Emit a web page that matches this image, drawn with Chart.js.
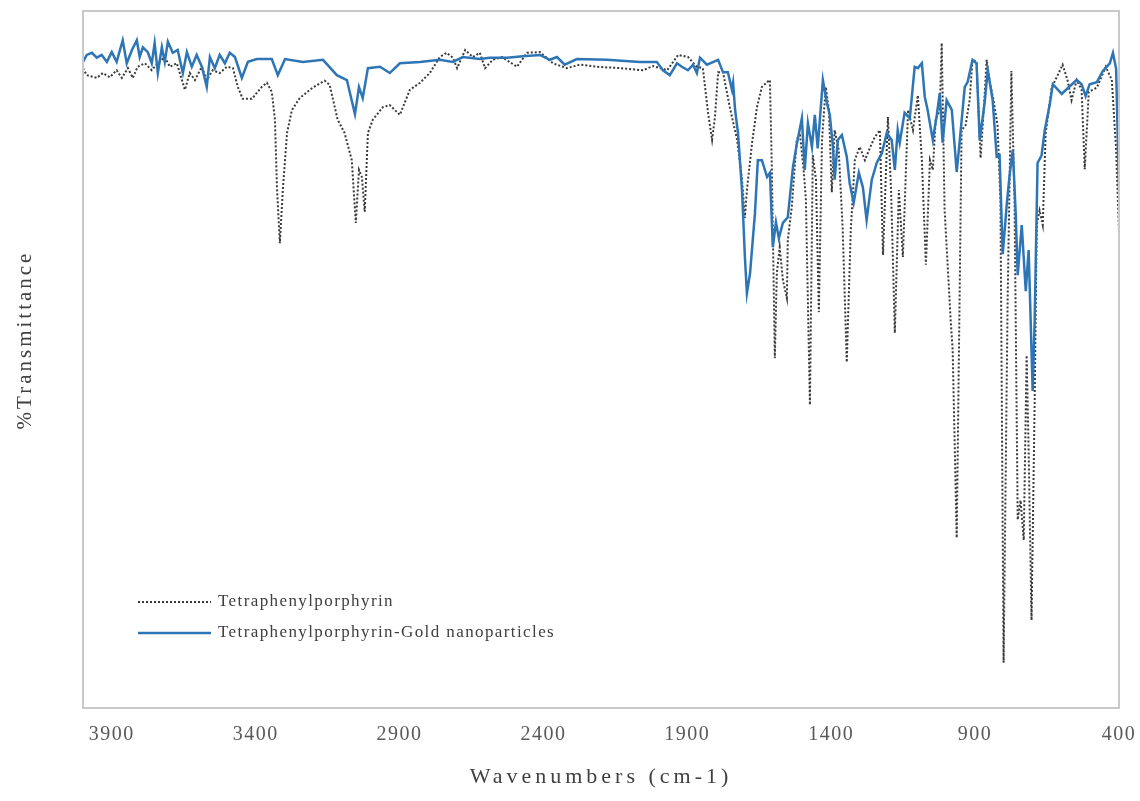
<!DOCTYPE html>
<html>
<head>
<meta charset="utf-8">
<title>FTIR - Tetraphenylporphyrin</title>
<script src="https://cdn.jsdelivr.net/npm/chart.js@4.4.1/dist/chart.umd.min.js"></script>
<style>
  html, body { margin: 0; padding: 0; background: #fff; }
  #wrap { position: relative; width: 1140px; height: 801px; }
</style>
</head>
<body>
<div id="wrap"><canvas id="ftirChart"></canvas></div>
<script>
  'use strict';

  const SERIF     = "'Liberation Serif', 'Times New Roman', serif";
  const TEXT      = '#404040';
  const TICK_TEXT = '#595959';
  const FRAME     = '#c9c9c9';
  const BLUE      = '#2e75b6';
  const DOTTED    = '#3a3a3a';

  /* ─── Data ─── */
  const xTickValues = [3900, 3400, 2900, 2400, 1900, 1400, 900, 400];

  // Tetraphenylporphyrin (dotted)
  const tppWavenumbers = [
    4000, 3987, 3952, 3931, 3907, 3883, 3865, 3844, 3827, 3810,
    3785, 3761, 3740, 3716, 3698, 3674, 3646, 3629, 3611, 3587,
    3570, 3549, 3525, 3500, 3479, 3462, 3445, 3413, 3379, 3361,
    3344, 3333, 3326, 3316, 3305, 3291, 3274, 3247, 3202, 3160,
    3143, 3115, 3091, 3066, 3052, 3041, 3031, 3021, 3010, 2993,
    2958, 2934, 2899, 2864, 2829, 2795, 2760, 2736, 2715, 2700,
    2672, 2645, 2621, 2603, 2576, 2544, 2492, 2457, 2412, 2367,
    2319, 2273, 2214, 2134, 2054, 2019, 1970, 1932, 1898, 1867,
    1846, 1828, 1814, 1804, 1793, 1776, 1752, 1727, 1710, 1700,
    1693, 1675, 1658, 1641, 1623, 1613, 1606, 1596, 1589, 1579,
    1568, 1554, 1551, 1537, 1520, 1509, 1495, 1488, 1474, 1464,
    1453, 1443, 1432, 1419, 1408, 1398, 1388, 1374, 1360, 1346,
    1332, 1318, 1301, 1283, 1266, 1249, 1231, 1220, 1203, 1192,
    1179, 1165, 1151, 1133, 1116, 1099, 1085, 1071, 1057, 1047,
    1037, 1023, 1016, 1006, 996, 985, 978, 964, 954, 947,
    933, 919, 909, 895, 881, 867, 860, 850, 836, 822,
    812, 801, 787, 774, 763, 752, 742, 731, 721, 714,
    704, 693, 686, 676, 665, 655, 634, 613, 596, 579,
    565, 547, 530, 519, 505, 477, 446, 425, 410, 400
  ];
  const tppTransmittance = [
    91.8, 90.8, 90.4, 91.1, 90.5, 91.5, 90.4, 91.8, 90.4, 92.0,
    92.5, 91.5, 92.5, 93.4, 92.0, 92.5, 88.7, 91.1, 90.1, 92.0,
    90.1, 91.5, 91.1, 92.0, 91.8, 89.1, 87.4, 87.4, 89.1, 89.7,
    88.4, 84.4, 74.7, 66.7, 74.7, 82.5, 85.8, 87.5, 89.0, 90.0,
    89.4, 84.4, 82.5, 78.6, 69.6, 77.2, 76.2, 71.2, 82.5, 84.4,
    86.2, 86.5, 85.1, 88.7, 89.7, 91.1, 93.4, 94.0, 93.3, 91.8,
    94.4, 93.4, 94.0, 91.8, 93.0, 93.4, 92.0, 94.0, 94.1, 92.5,
    91.8, 92.3, 92.0, 91.8, 91.5, 92.1, 91.5, 93.7, 93.4, 92.0,
    91.8, 85.4, 81.5, 84.8, 91.2, 91.2, 86.1, 81.5, 75.8, 70.3,
    74.3, 81.1, 86.2, 89.1, 89.8, 90.1, 76.8, 50.2, 62.4, 66.1,
    61.4, 58.8, 67.1, 71.9, 81.5, 82.5, 76.8, 72.9, 43.5, 79.3,
    75.8, 56.8, 81.5, 89.1, 85.8, 74.0, 82.9, 80.1, 68.6, 49.6,
    68.6, 78.6, 80.5, 78.6, 80.3, 81.9, 82.9, 65.0, 84.8, 74.3,
    53.8, 74.3, 64.7, 85.8, 82.9, 87.9, 78.6, 63.6, 78.6, 77.2,
    84.4, 85.8, 95.4, 71.4, 64.0, 55.7, 51.4, 24.4, 58.5, 82.9,
    83.6, 87.2, 93.0, 92.7, 78.9, 87.9, 93.0, 90.1, 87.2, 83.6,
    72.9, 6.5, 58.5, 91.4, 72.9, 27.0, 29.8, 24.1, 50.6, 37.0,
    12.6, 44.2, 69.3, 71.4, 69.3, 82.4, 89.0, 90.8, 92.3, 90.1,
    87.2, 90.1, 88.7, 77.3, 88.4, 89.0, 92.0, 90.1, 80.1, 68.3
  ];

  // Tetraphenylporphyrin-Gold nanoparticles (solid blue)
  const auWavenumbers = [
    4000, 3987, 3969, 3952, 3935, 3917, 3900, 3883, 3862, 3848,
    3830, 3813, 3803, 3792, 3775, 3761, 3751, 3740, 3726, 3716,
    3705, 3688, 3671, 3653, 3639, 3622, 3605, 3587, 3570, 3559,
    3542, 3525, 3507, 3490, 3472, 3448, 3427, 3396, 3344, 3323,
    3298, 3236, 3166, 3118, 3083, 3055, 3041, 3028, 3010, 2968,
    2934, 2899, 2829, 2760, 2715, 2680, 2621, 2587, 2527, 2472,
    2412, 2378, 2353, 2326, 2284, 2179, 2065, 2006, 1985, 1961,
    1936, 1919, 1898, 1880, 1867, 1856, 1832, 1793, 1776, 1759,
    1745, 1741, 1734, 1724, 1710, 1700, 1693, 1682, 1665, 1655,
    1641, 1623, 1613, 1603, 1592, 1582, 1568, 1551, 1533, 1520,
    1502, 1492, 1481, 1467, 1457, 1447, 1429, 1415, 1405, 1394,
    1388, 1377, 1363, 1346, 1336, 1322, 1304, 1290, 1277, 1259,
    1242, 1224, 1207, 1190, 1179, 1169, 1162, 1145, 1127, 1110,
    1099, 1085, 1075, 1065, 1047, 1033, 1023, 1013, 999, 981,
    964, 954, 936, 926, 909, 895, 884, 867, 856, 839,
    825, 815, 804, 790, 780, 769, 759, 752, 738, 724,
    714, 700, 693, 683, 669, 658, 641, 630, 599, 571,
    547, 530, 516, 502, 477, 456, 432, 421, 410, 400
  ];
  const auTransmittance = [
    92.7, 93.7, 94.0, 93.3, 93.7, 92.7, 94.1, 92.7, 95.8, 92.5,
    94.4, 95.8, 93.4, 94.8, 94.1, 92.5, 95.4, 91.1, 94.8, 92.7,
    95.6, 94.0, 94.4, 91.1, 94.1, 92.0, 93.7, 92.0, 89.1, 93.4,
    91.8, 93.7, 92.5, 94.0, 93.4, 90.4, 92.7, 93.1, 93.1, 90.8,
    93.1, 92.7, 93.0, 90.8, 90.1, 85.2, 89.1, 87.5, 91.8, 92.0,
    91.1, 92.5, 92.7, 93.0, 92.7, 93.4, 93.1, 93.3, 93.3, 93.5,
    93.7, 93.0, 93.4, 92.3, 93.1, 93.0, 92.7, 92.7, 91.5, 90.8,
    92.5, 92.0, 91.5, 92.3, 91.1, 93.3, 92.3, 93.0, 91.2, 91.2,
    88.7, 89.7, 85.8, 82.5, 74.3, 64.7, 59.5, 62.4, 71.0, 78.6,
    78.6, 76.2, 76.8, 66.1, 69.7, 67.4, 69.6, 70.4, 77.6, 80.8,
    84.6, 77.2, 83.9, 80.5, 85.1, 80.3, 90.1, 86.8, 85.1, 80.5,
    75.8, 81.5, 82.2, 79.1, 75.3, 72.5, 76.8, 74.7, 70.0, 75.8,
    78.2, 79.6, 82.5, 81.5, 77.2, 82.9, 81.1, 85.4, 84.6, 92.0,
    91.8, 92.5, 87.7, 85.8, 81.5, 85.1, 88.2, 81.1, 87.2, 85.8,
    76.9, 81.1, 89.1, 89.8, 93.0, 92.5, 81.5, 86.8, 91.5, 87.2,
    79.1, 79.3, 65.1, 72.3, 76.5, 80.1, 71.0, 62.1, 69.3, 59.8,
    65.7, 45.5, 55.7, 78.2, 79.3, 82.9, 86.5, 89.5, 88.1, 89.2,
    90.1, 89.5, 87.8, 89.5, 89.8, 91.4, 92.5, 94.0, 91.7, 74.0
  ];

  const seriesNames = ['Tetraphenylporphyrin', 'Tetraphenylporphyrin-Gold nanoparticles'];

  function toPoints(xs, ys) {
    return xs.map(function (x, i) { return { x: x, y: ys[i] }; });
  }

  /* ─── Frame, axis titles and in-plot legend ─── */
  const decorations = {
    id: 'decorations',
    beforeDraw: function (chart) {
      chart.ctx.letterSpacing = '1.5px';
    },
    afterDraw: function (chart) {
      const ctx = chart.ctx;
      const a = chart.chartArea;
      ctx.save();

      // plot frame
      ctx.strokeStyle = FRAME;
      ctx.lineWidth = 2;
      ctx.strokeRect(a.left, a.top, a.right - a.left, a.bottom - a.top);

      // x title
      ctx.fillStyle = TEXT;
      ctx.textAlign = 'center';
      ctx.textBaseline = 'middle';
      ctx.letterSpacing = '4px';
      ctx.font = '22px ' + SERIF;
      ctx.fillText('Wavenumbers (cm-1)', (a.left + a.right) / 2, 777);

      // y title
      ctx.letterSpacing = '3px';
      ctx.font = '21px ' + SERIF;
      ctx.save();
      ctx.translate(25, 340);
      ctx.rotate(-Math.PI / 2);
      ctx.fillText('%Transmittance', 0, 0);
      ctx.restore();

      // legend
      const rows = [
        { label: seriesNames[0], color: DOTTED, dash: [2, 2], width: 2, y: 602 },
        { label: seriesNames[1], color: BLUE, dash: [], width: 2.5, y: 633 }
      ];
      ctx.letterSpacing = '1.4px';
      ctx.font = '17px ' + SERIF;
      ctx.textAlign = 'left';
      rows.forEach(function (r) {
        ctx.beginPath();
        ctx.setLineDash(r.dash);
        ctx.strokeStyle = r.color;
        ctx.lineWidth = r.width;
        ctx.moveTo(138, r.y);
        ctx.lineTo(211, r.y);
        ctx.stroke();
        ctx.setLineDash([]);
        ctx.fillStyle = TEXT;
        ctx.fillText(r.label, 218, r.y);
      });

      ctx.restore();
    }
  };

  document.addEventListener('DOMContentLoaded', function () {
    if (typeof Chart === 'undefined') return;

    new Chart(document.getElementById('ftirChart'), {
      type: 'scatter',
      data: {
        datasets: [{
          label: seriesNames[0],
          data: toPoints(tppWavenumbers, tppTransmittance),
          showLine: true,
          borderColor: DOTTED,
          borderWidth: 2,
          borderDash: [2, 2],
          pointRadius: 0,
          tension: 0,
          order: 1
        }, {
          label: seriesNames[1],
          data: toPoints(auWavenumbers, auTransmittance),
          showLine: true,
          borderColor: BLUE,
          borderWidth: 2.5,
          pointRadius: 0,
          tension: 0,
          order: 0
        }]
      },
      options: {
        responsive: true,
        maintainAspectRatio: false,
        animation: false,
        devicePixelRatio: 1,
        layout: { padding: { left: 83, right: 21, top: 11, bottom: 54 } },
        plugins: {
          legend: { display: false },
          tooltip: { enabled: false }
        },
        scales: {
          x: {
            type: 'linear',
            min: 400,
            max: 4000,
            reverse: true,
            grid: { display: false, drawTicks: true, tickLength: 15 },
            border: { display: false },
            afterBuildTicks: function (axis) {
              axis.ticks = xTickValues.map(function (v) { return { value: v }; });
            },
            ticks: {
              padding: 0,
              color: TICK_TEXT,
              font: { family: SERIF, size: 20 },
              maxRotation: 0,
              autoSkip: false,
              callback: function (v) { return String(v); }
            }
          },
          y: {
            display: false,
            min: 0,
            max: 100
          }
        }
      },
      plugins: [decorations]
    });
  });
</script>
</body>
</html>
